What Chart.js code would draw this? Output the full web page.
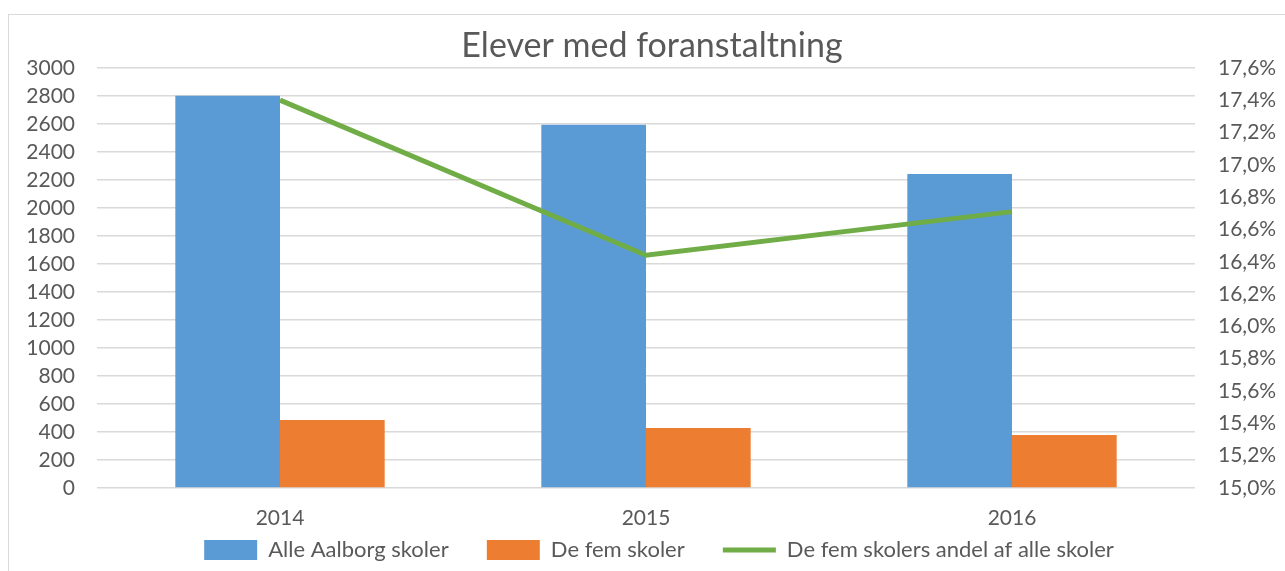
<!DOCTYPE html>
<html>
<head>
<meta charset="utf-8">
<script src="https://cdn.jsdelivr.net/npm/chart.js@4"></script>
<style>
  html, body { margin: 0; padding: 0; background: #fff; }
  #wrap { width: 1285px; height: 571px; position: relative; }
</style>
</head>
<body>
<div id="wrap"><canvas id="chart"></canvas></div>
<script>
const years = ["2014", "2015", "2016"];
const alleSkoler = [2800, 2593, 2241];
const femSkoler = [486, 428, 378];
const andelPct = [17.40, 16.44, 16.71];

const grey = "#595959";
const gridGrey = "#d9d9d9";
const fontFam = "Lato, 'Open Sans', sans-serif";

// thin frame around the chart like the Excel chart border,
// and nudge title/legend a bit right as in the original
const framePlugin = {
  id: "frame",
  afterLayout(chart) {
    if (chart.legend) chart.legend.left += 33;
    if (chart.titleBlock) chart.titleBlock.left += 19;
  },
  beforeDraw(chart) {
    const c = chart.ctx;
    c.save();
    c.fillStyle = "#fff";
    c.fillRect(0, 0, chart.width, chart.height);
    c.strokeStyle = gridGrey;
    c.lineWidth = 1;
    c.strokeRect(8.5, 14.5, chart.width + 10, chart.height + 10);
    c.restore();
  }
};

// extra trailing gap after legend texts (Excel spaces its entries wider)
const legendGap = { "Alle Aalborg skoler": "     ", "De fem skoler": "     " };

const ctx = document.getElementById("chart").getContext("2d");
new Chart(ctx, {
  data: {
    labels: years,
    datasets: [
      {
        type: "line",
        label: "De fem skolers andel af alle skoler",
        data: andelPct,
        yAxisID: "y1",
        borderColor: "#70AD47",
        backgroundColor: "#70AD47",
        borderWidth: 5,
        pointRadius: 0,
        tension: 0,
        order: 0
      },
      {
        type: "bar",
        label: "Alle Aalborg skoler",
        data: alleSkoler,
        yAxisID: "y",
        backgroundColor: "#5B9BD5",
        categoryPercentage: 0.572,
        barPercentage: 1,
        order: 1
      },
      {
        type: "bar",
        label: "De fem skoler",
        data: femSkoler,
        yAxisID: "y",
        backgroundColor: "#ED7D31",
        categoryPercentage: 0.572,
        barPercentage: 1,
        order: 1
      }
    ]
  },
  options: {
    responsive: true,
    maintainAspectRatio: false,
    animation: false,
    layout: { padding: 0 },
    plugins: {
      title: {
        display: true,
        text: "Elever med foranstaltning",
        color: grey,
        font: { family: fontFam, size: 34, weight: "normal", lineHeight: 1.2 },
        padding: { top: 26, bottom: 1 }
      },
      legend: {
        position: "bottom",
        labels: {
          color: grey,
          font: { family: fontFam, size: 22 },
          usePointStyle: true,
          pointStyleWidth: 53,
          boxHeight: 20,
          padding: 10,
          sort: (a, b) => {
            const ord = { "Alle Aalborg skoler": 0, "De fem skoler": 1 };
            return (ord[a.datasetLabel] ?? 2) - (ord[b.datasetLabel] ?? 2);
          },
          generateLabels(chart) {
            return chart.data.datasets.map((ds, i) => ({
              text: ds.label + (legendGap[ds.label] || ""),
              datasetLabel: ds.label,
              fillStyle: ds.backgroundColor,
              strokeStyle: ds.borderColor || ds.backgroundColor,
              lineWidth: ds.type === "line" ? 5 : 0,
              pointStyle: ds.type === "line" ? "line" : "rect",
              fontColor: grey,
              hidden: !chart.isDatasetVisible(i),
              datasetIndex: i
            }));
          }
        }
      },
      tooltip: { enabled: false }
    },
    scales: {
      x: {
        grid: { display: false, drawTicks: false },
        border: { display: false },
        ticks: { color: grey, font: { family: fontFam, size: 21 }, padding: 18 },
        afterFit(scale) { scale.height = 41; }
      },
      y: {
        position: "left",
        min: 0,
        max: 3000,
        ticks: {
          stepSize: 200,
          autoSkip: false,
          color: grey,
          font: { family: fontFam, size: 21 },
          padding: 22,
          callback: v => String(v)
        },
        grid: { color: gridGrey, lineWidth: 1.5, drawTicks: false },
        border: { display: false },
        afterFit(scale) { scale.width = 97; }
      },
      y1: {
        position: "right",
        min: 15,
        max: 17.6,
        ticks: {
          stepSize: 0.2,
          autoSkip: false,
          color: grey,
          font: { family: fontFam, size: 21 },
          padding: 23,
          callback: v => v.toFixed(1).replace(".", ",") + "%"
        },
        grid: { display: false, drawTicks: false },
        border: { display: false },
        afterFit(scale) { scale.width = 90; }
      }
    }
  },
  plugins: [framePlugin]
});
</script>
</body>
</html>
